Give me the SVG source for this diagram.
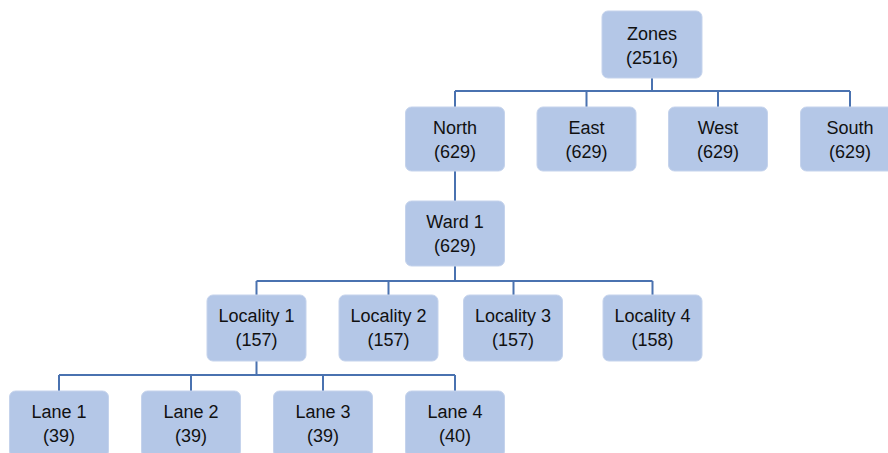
<svg xmlns="http://www.w3.org/2000/svg" width="888" height="453" viewBox="0 0 888 453">
<style>
.box{fill:#B4C7E7;stroke:#C5D3EC;stroke-width:1}
.t{font-family:"Liberation Sans",Arial,sans-serif;font-size:18px;fill:#111111;text-anchor:middle}
.c{fill:none;stroke:#4A72B0;stroke-width:2}
</style>
<rect width="888" height="453" fill="#ffffff"/>
<g id="connectors">
<path class="c" d="M652 78V91M455 91H850M455 91V107M586.5 91V107M718 91V107M850 91V107"/>
<path class="c" d="M455 171V201"/>
<path class="c" d="M455 266V281M256.5 281H652.5M256.5 281V295M388.5 281V295M513.5 281V295M652.5 281V295"/>
<path class="c" d="M256.5 361V375M59 375H455M59 375V391M191 375V391M323 375V391M455 375V391"/>
</g>
<g id="zones"><rect class="box" x="602" y="11" width="100" height="67" rx="6"/><text class="t" x="652" y="40">Zones</text><text class="t" x="652" y="64">(2516)</text></g>
<g id="north"><rect class="box" x="405.5" y="107" width="99" height="64" rx="6"/><text class="t" x="455" y="134">North</text><text class="t" x="455" y="158">(629)</text></g>
<g id="east"><rect class="box" x="537" y="107" width="99" height="64" rx="6"/><text class="t" x="586.5" y="134">East</text><text class="t" x="586.5" y="158">(629)</text></g>
<g id="west"><rect class="box" x="668.5" y="107" width="99" height="64" rx="6"/><text class="t" x="718" y="134">West</text><text class="t" x="718" y="158">(629)</text></g>
<g id="south"><rect class="box" x="800.5" y="107" width="99" height="64" rx="6"/><text class="t" x="850" y="134">South</text><text class="t" x="850" y="158">(629)</text></g>
<g id="ward1"><rect class="box" x="405.5" y="201" width="99" height="65" rx="6"/><text class="t" x="455" y="228">Ward 1</text><text class="t" x="455" y="252">(629)</text></g>
<g id="locality1"><rect class="box" x="207" y="295" width="99" height="66" rx="6"/><text class="t" x="256.5" y="322">Locality 1</text><text class="t" x="256.5" y="346">(157)</text></g>
<g id="locality2"><rect class="box" x="339" y="295" width="99" height="66" rx="6"/><text class="t" x="388.5" y="322">Locality 2</text><text class="t" x="388.5" y="346">(157)</text></g>
<g id="locality3"><rect class="box" x="463.5" y="295" width="99" height="66" rx="6"/><text class="t" x="513" y="322">Locality 3</text><text class="t" x="513" y="346">(157)</text></g>
<g id="locality4"><rect class="box" x="603" y="295" width="99" height="66" rx="6"/><text class="t" x="652.5" y="322">Locality 4</text><text class="t" x="652.5" y="346">(158)</text></g>
<g id="lane1"><rect class="box" x="9.5" y="391" width="99" height="66" rx="6"/><text class="t" x="59" y="418">Lane 1</text><text class="t" x="59" y="442">(39)</text></g>
<g id="lane2"><rect class="box" x="141.5" y="391" width="99" height="66" rx="6"/><text class="t" x="191" y="418">Lane 2</text><text class="t" x="191" y="442">(39)</text></g>
<g id="lane3"><rect class="box" x="273.5" y="391" width="99" height="66" rx="6"/><text class="t" x="323" y="418">Lane 3</text><text class="t" x="323" y="442">(39)</text></g>
<g id="lane4"><rect class="box" x="405.5" y="391" width="99" height="66" rx="6"/><text class="t" x="455" y="418">Lane 4</text><text class="t" x="455" y="442">(40)</text></g>
</svg>
